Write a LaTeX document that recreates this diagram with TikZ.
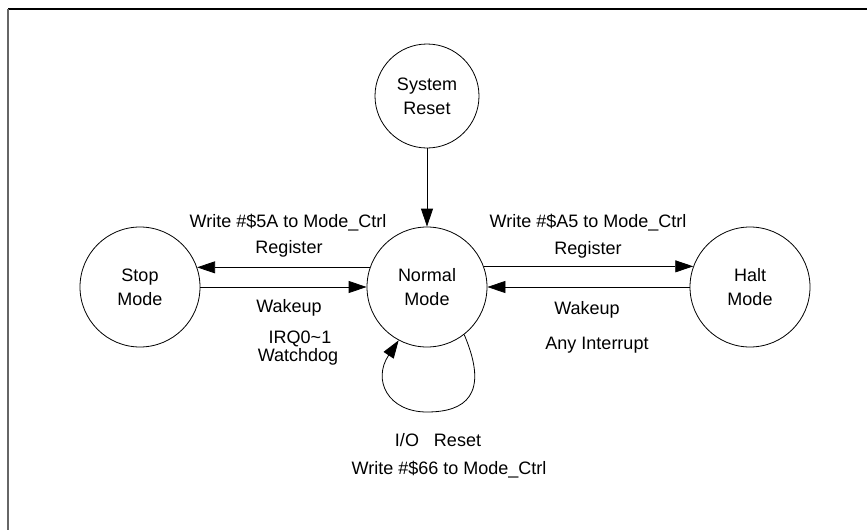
\documentclass[tikz,border=0pt]{standalone}
\usepackage{fontspec}
\setmainfont{Liberation Sans}
\usetikzlibrary{arrows.meta}
\begin{document}
\begin{tikzpicture}[x=1pt,y=-1pt,
  state/.style={draw, circle, minimum size=120pt, inner sep=0pt, align=center, font=\fontsize{18}{24}\selectfont, line width=0.8pt},
  lbl/.style={font=\fontsize{18}{22}\selectfont, inner sep=0pt},
  arr/.style={-{Triangle[length=18pt,width=12pt]}, line width=0.8pt}]
\useasboundingbox (0,0) rectangle (867,530);
\draw[black, line width=1.3pt] (8,9) -- (867,9);
\draw[black!60, line width=2pt] (8,9) -- (8,530);
\node[state, minimum size=104pt] (sys) at (427,96) {System\\Reset};
\node[state] (nor) at (427,287) {Normal\\Mode};
\node[state] (stop) at (140,287) {Stop\\Mode};
\node[state] (halt) at (750,287) {Halt\\Mode};
\draw[arr] (sys) -- (nor);
\draw[arr] (nor.161) -- (stop.19);
\draw[arr] (stop.east) -- (nor.west);
\draw[arr] (nor.20) -- (halt.160);
\draw[arr] (halt.west) -- (nor.east);
\draw[arr] (nor.-52) .. controls (490,395) and (465,412) .. (427,412) .. controls (388,412) and (372,380) .. (nor.-118);
\node[lbl] (wl) at (288,223) {Write \#\$5A to Mode\_Ctrl};
\node[lbl] (rl) at (289,249) {Register};
\node[lbl] (wkl) at (289,308) {Wakeup};
\node[lbl] (irq) at (300,339) {IRQ0\textasciitilde1};
\node[lbl] (wd) at (298,357) {Watchdog};
\node[lbl] (wr) at (588,223) {Write \#\$A5 to Mode\_Ctrl};
\node[lbl] (rr) at (588,250) {Register};
\node[lbl] (wkr) at (587,310) {Wakeup};
\node[lbl] (ai) at (597,345) {Any Interrupt};
\node[lbl] (io) at (438,440) {I/O\ \ \ Reset};
\node[lbl] (w66) at (449,470) {Write \#\$66 to Mode\_Ctrl};
\end{tikzpicture}
\end{document}
